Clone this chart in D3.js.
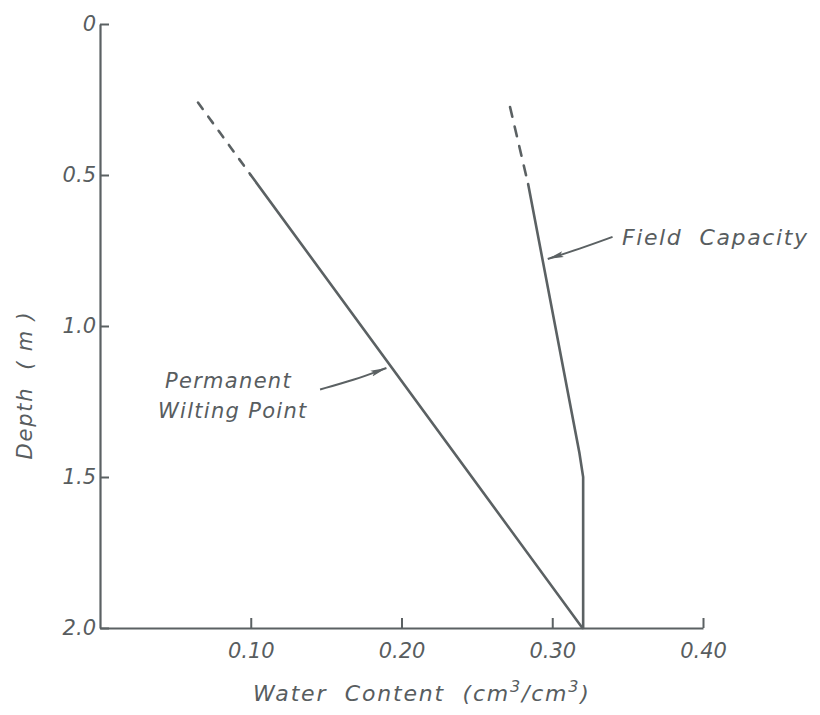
<!DOCTYPE html>
<html>
<head>
<meta charset="utf-8">
<script src="https://cdn.jsdelivr.net/npm/d3@7"></script>
<style>
  body { margin: 0; background: #fff; }
  text { font-family: "DejaVu Sans", sans-serif; font-style: italic; fill: #585d5f; white-space: pre; }
</style>
</head>
<body>
<svg id="chart" width="820" height="715"></svg>
<script>
// depth (m) ticks and water content ticks
const depthTicks = [0, 0.5, 1.0, 1.5, 2.0];
const depthLabels = ["0", "0.5", "1.0", "1.5", "2.0"];
const thetaTicks = [0.10, 0.20, 0.30, 0.40];
const thetaLabels = ["0.10", "0.20", "0.30", "0.40"];

// permanent wilting point
const pwpDashDepth = [0.26, 0.50];
const pwpDashTheta = [0.065, 0.100];
const pwpDepth = [0.50, 2.00];
const pwpTheta = [0.100, 0.320];

// field capacity
const fcDashDepth = [0.275, 0.53];
const fcDashTheta = [0.272, 0.284];
const fcDepth = [0.53, 1.42, 1.50, 2.00];
const fcTheta = [0.284, 0.318, 0.3205, 0.3205];

// annotation arrows: tail -> tip in data units
const fcArrowDepth = [0.705, 0.745, 0.778];
const fcArrowTheta = [0.340, 0.318, 0.297];
const pwpArrowDepth = [1.21, 1.18, 1.139];
const pwpArrowTheta = [0.146, 0.168, 0.190];

const ink = "#5b6163";
const svg = d3.select("#chart");

const x = d3.scaleLinear().domain([0, 0.40]).range([100, 703]);
const y = d3.scaleLinear().domain([0, 2.0]).range([24, 628]);

const pts = (ds, ts) => ds.map((d, i) => [ts[i], d]);
const line = d3.line().x(d => x(d[0])).y(d => y(d[1]));

// y axis, ticks pointing in
const yAxis = svg.append("g")
  .attr("transform", "translate(" + x(0) + ",0)")
  .call(d3.axisLeft(y).tickValues(depthTicks).tickSize(-9).tickSizeOuter(0)
    .tickPadding(4).tickFormat((d, i) => depthLabels[i]));

// x axis, ticks pointing up
const xAxis = svg.append("g")
  .attr("transform", "translate(0," + y(2.0) + ")")
  .call(d3.axisBottom(x).tickValues(thetaTicks).tickSize(-10).tickSizeOuter(0)
    .tickPadding(14).tickFormat((d, i) => thetaLabels[i]));

[yAxis, xAxis].forEach(a => {
  a.select(".domain").attr("stroke", ink).attr("stroke-width", 2.2);
  a.selectAll(".tick line").attr("stroke", ink).attr("stroke-width", 2);
  a.selectAll(".tick text").style("font-size", "21px").attr("fill", "#585d5f")
    .attr("font-family", null);
});
xAxis.selectAll(".tick text").attr("dy", "0.75em");

svg.append("defs").append("marker")
  .attr("id", "head")
  .attr("viewBox", "0 0 16 8")
  .attr("refX", 16).attr("refY", 4)
  .attr("markerWidth", 16).attr("markerHeight", 8)
  .attr("markerUnits", "userSpaceOnUse")
  .attr("orient", "auto")
  .append("path")
  .attr("d", "M0,1 L16,4 L0,7 L3,4 Z")
  .attr("fill", ink);

// curves
const curves = [
  { d: pts(pwpDashDepth, pwpDashTheta), dash: "8,9.5" },
  { d: pts(pwpDepth, pwpTheta), dash: null },
  { d: pts(fcDashDepth, fcDashTheta), dash: "10,10" },
  { d: pts(fcDepth, fcTheta), dash: null }
];
svg.selectAll(".curve")
  .data(curves)
  .enter()
  .append("path")
  .attr("class", "curve")
  .attr("d", c => line(c.d))
  .attr("fill", "none")
  .attr("stroke", ink)
  .attr("stroke-width", 2.6)
  .attr("stroke-linecap", "round")
  .attr("stroke-dasharray", c => c.dash);

// arrows
const arrowLine = d3.line().x(d => x(d[0])).y(d => y(d[1])).curve(d3.curveBasis);
[pts(fcArrowDepth, fcArrowTheta), pts(pwpArrowDepth, pwpArrowTheta)].forEach(a => {
  svg.append("path")
    .attr("d", arrowLine(a))
    .attr("fill", "none")
    .attr("stroke", ink)
    .attr("stroke-width", 2)
    .attr("marker-end", "url(#head)");
});

// labels
svg.append("text").attr("x", 622).attr("y", 245)
  .style("font-size", "22px").style("letter-spacing", "1.6px")
  .text("Field  Capacity");
svg.append("text").attr("x", 165).attr("y", 388)
  .style("font-size", "21px").style("letter-spacing", "1.3px")
  .text("Permanent");
svg.append("text").attr("x", 158).attr("y", 418)
  .style("font-size", "21px").style("letter-spacing", "1.3px")
  .text("Wilting Point");

// axis titles
const xt = svg.append("text").attr("x", 253).attr("y", 701)
  .style("font-size", "22px").style("letter-spacing", "1.8px");
xt.append("tspan").text("Water  Content  (cm");
xt.append("tspan").attr("dy", -9).style("font-size", "16px").text("3");
xt.append("tspan").attr("dy", 9).text("/cm");
xt.append("tspan").attr("dy", -9).style("font-size", "16px").text("3");
xt.append("tspan").attr("dy", 9).text(")");

svg.append("text")
  .attr("transform", "translate(32,385) rotate(-90)")
  .attr("text-anchor", "middle")
  .style("font-size", "21px").style("letter-spacing", "1.8px")
  .text("Depth  ( m )");
</script>
</body>
</html>
